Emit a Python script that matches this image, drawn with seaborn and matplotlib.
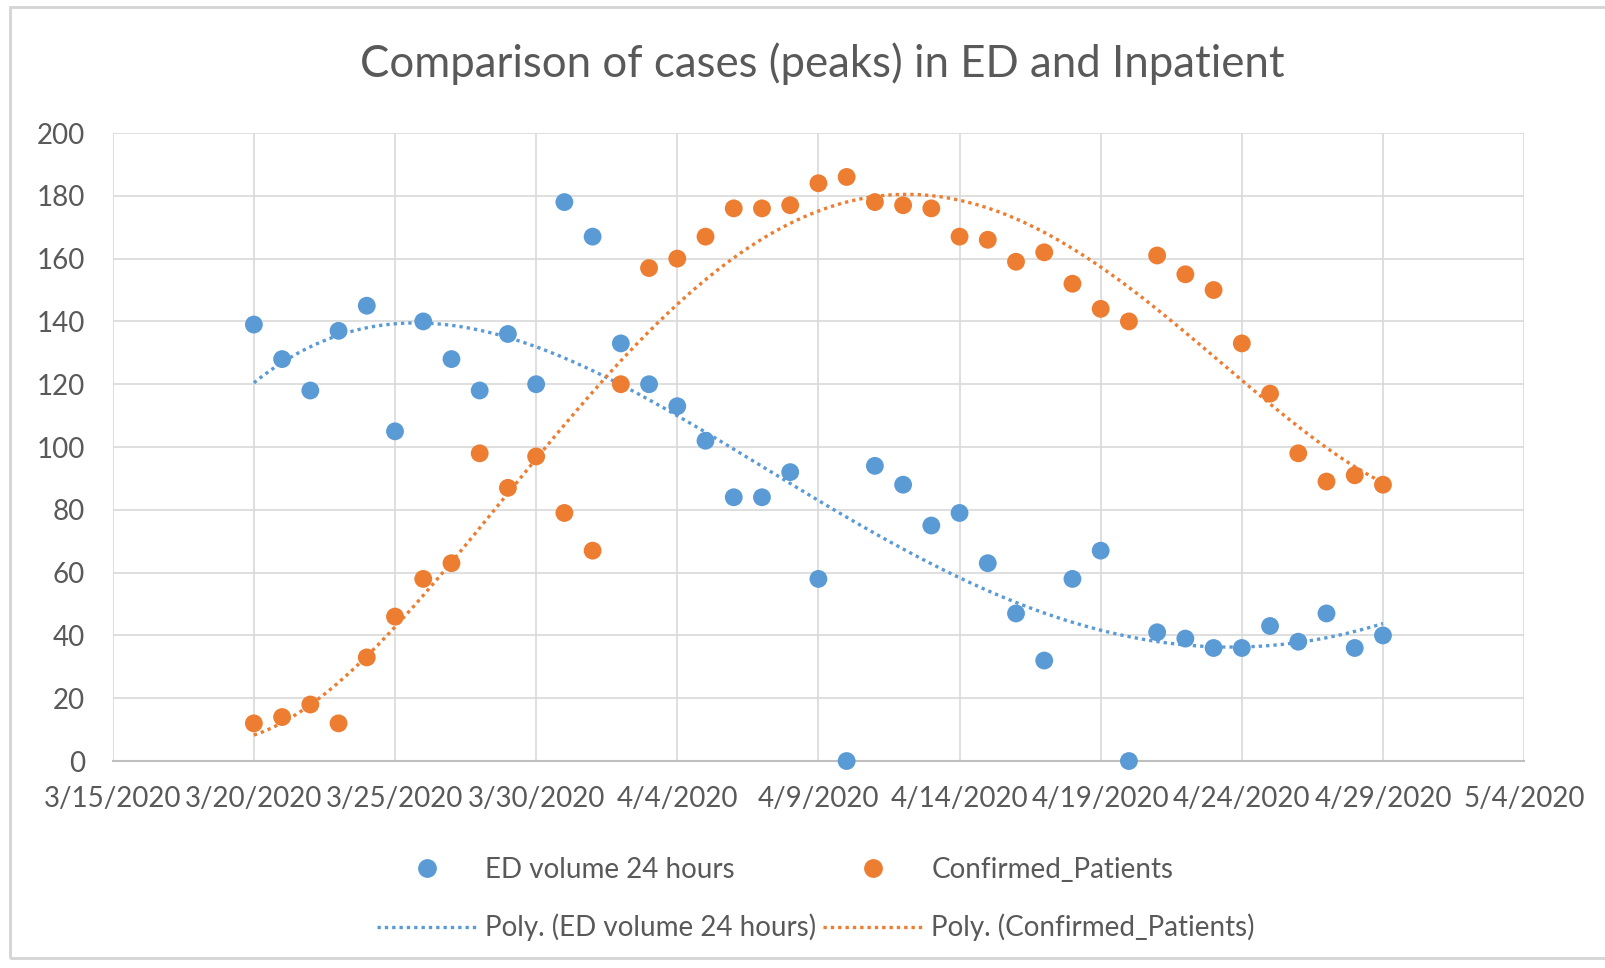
import numpy as np
import pandas as pd
import seaborn as sns
import matplotlib
matplotlib.use('Agg')
from matplotlib import pyplot as plt
import matplotlib.dates as mdates
from matplotlib.patches import Rectangle
from matplotlib.lines import Line2D

# 数据 (每日，3/20/2020 - 4/29/2020)
dates = pd.date_range('2020-03-20', '2020-04-29', freq='D')
ed_volume = [139, 128, 118, 137, 145, 105, 140, 128, 118, 136,
             120, 178, 167, 133, 120, 113, 102, 84, 84, 92,
             58, 0, 94, 88, 75, 79, 63, 47, 32, 58,
             67, 0, 41, 39, 36, 36, 43, 38, 47, 36, 40]
confirmed = [12, 14, 18, 12, 33, 46, 58, 63, 98, 87,
             97, 79, 67, 120, 157, 160, 167, 176, 176, 177,
             184, 186, 178, 177, 176, 167, 166, 159, 162, 152,
             144, 140, 161, 155, 150, 133, 117, 98, 89, 91, 88]
tick_dates = pd.date_range('2020-03-15', '2020-05-04', freq='5D')
y_ticks = list(range(0, 201, 20))

blue = '#5B9BD5'
orange = '#ED7D31'
text_gray = '#595959'

df = pd.DataFrame({'date': list(dates) * 2,
                   'value': ed_volume + confirmed,
                   'series': ['ED volume 24 hours'] * len(dates) + ['Confirmed_Patients'] * len(dates)})

sns.set_style('white')
plt.rcParams['font.family'] = ['Lato', 'DejaVu Sans']

fig = plt.figure(figsize=(16.06, 9.68), dpi=100)
ax = fig.add_axes([0.0702, 0.2138, 0.8788, 0.6488])

# 多项式趋势线 (4阶)
t = np.arange(len(dates))
p_ed = np.polyfit(t, ed_volume, 4)
p_cf = np.polyfit(t, confirmed, 4)
t_fine = np.linspace(0, len(dates) - 1, 300)
d_fine = dates[0] + pd.to_timedelta(t_fine, unit='D')
ax.plot(d_fine, np.polyval(p_ed, t_fine), color=blue, linestyle=(0, (1, 1.2)), linewidth=2.4, zorder=2)
ax.plot(d_fine, np.polyval(p_cf, t_fine), color=orange, linestyle=(0, (1, 1.2)), linewidth=2.4, zorder=2)

sns.scatterplot(data=df, x='date', y='value', hue='series', palette=[blue, orange],
                s=165, edgecolor='none', linewidth=0, ax=ax, legend=False, zorder=3, clip_on=False)

ax.set_xlim(tick_dates[0], tick_dates[-1])
ax.set_ylim(0, 200)
ax.set_xticks(tick_dates)
ax.xaxis.set_major_formatter(mdates.DateFormatter('%-m/%-d/%Y'))
ax.set_yticks(y_ticks)
ax.grid(True, color='#d9d9d9', linewidth=1.2)
ax.set_axisbelow(True)
for s in ['top', 'right', 'left']:
    ax.spines[s].set_visible(False)
ax.spines['bottom'].set_color('#bfbfbf')
ax.spines['bottom'].set_linewidth(1.5)
ax.tick_params(axis='both', length=0, labelsize=20, colors=text_gray)
ax.tick_params(axis='x', pad=18)
ax.tick_params(axis='y', pad=20)
ax.set_xlabel('')
ax.set_ylabel('')

fig.text(0.512, 0.934, 'Comparison of cases (peaks) in ED and Inpatient', ha='center', va='center',
         fontsize=31.5, color=text_gray)

handles = [Line2D([], [], marker='o', linestyle='none', color=blue, markersize=12.5),
           Line2D([], [], color=blue, linestyle=(0, (1, 1.2)), linewidth=2.4),
           Line2D([], [], marker='o', linestyle='none', color=orange, markersize=12.5),
           Line2D([], [], color=orange, linestyle=(0, (1, 1.2)), linewidth=2.4)]
labels = ['ED volume 24 hours', 'Poly. (ED volume 24 hours)',
          'Confirmed_Patients', 'Poly. (Confirmed_Patients)']
leg = fig.legend(handles, labels, ncol=2, loc='center', bbox_to_anchor=(0.508, 0.071),
                 frameon=False, fontsize=20, labelspacing=1.1, columnspacing=0.25,
                 handlelength=3.6, handletextpad=0.3)
for txt in leg.get_texts():
    txt.set_color(text_gray)

# 外框
fig.patches.append(Rectangle((10 / 1606, 10 / 968), 1.0, 951 / 968, transform=fig.transFigure,
                             fill=False, edgecolor='#d4d4d4', linewidth=2))

fig.savefig('out.png', dpi=100)
